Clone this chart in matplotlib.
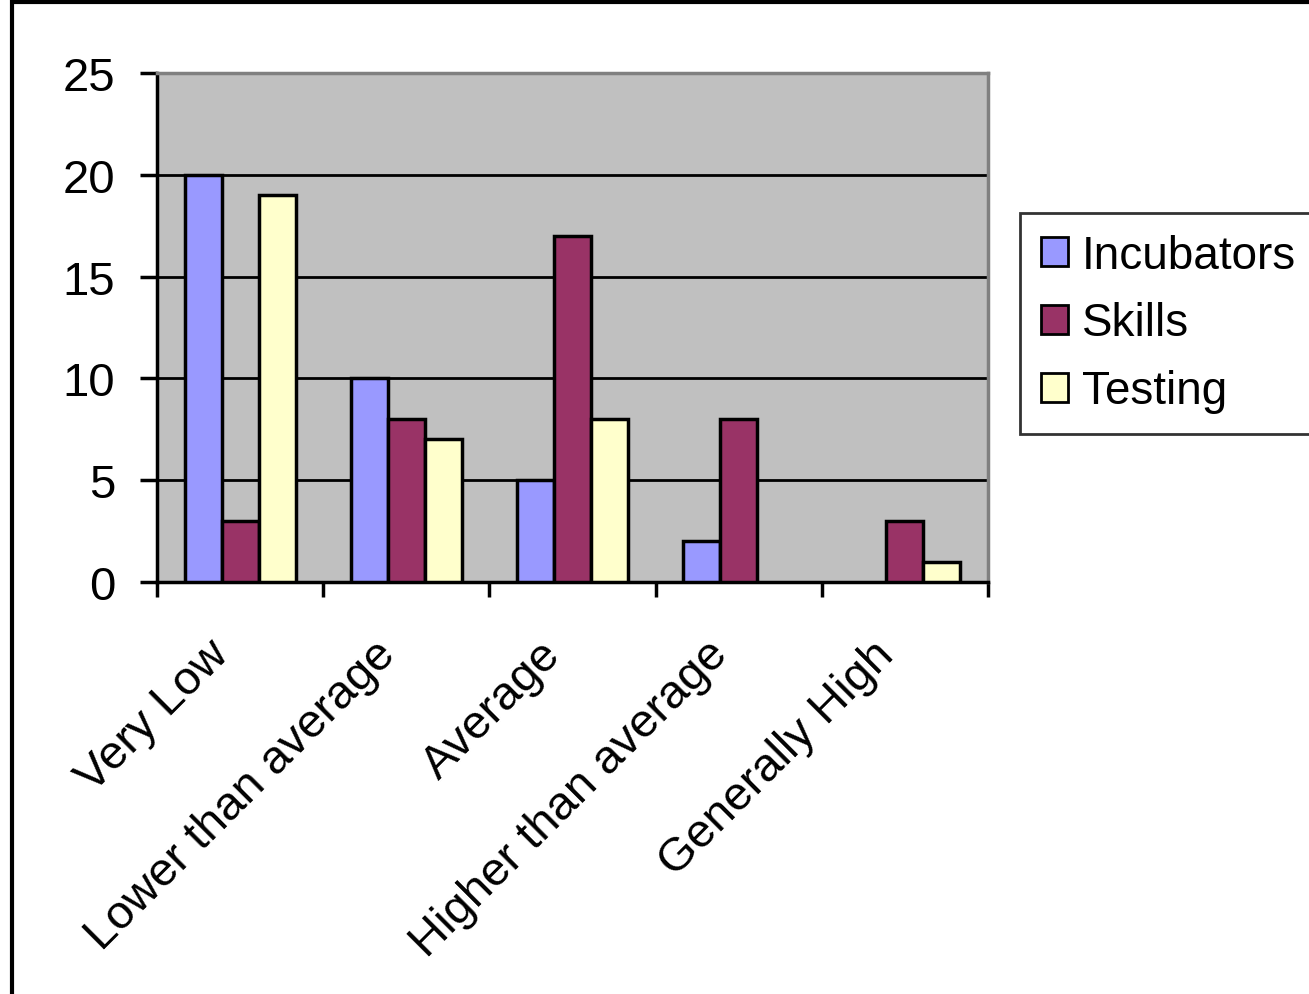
import matplotlib
matplotlib.use("Agg")
import matplotlib.pyplot as plt
import matplotlib.transforms as mtransforms
import numpy as np
from matplotlib.patches import Rectangle

categories = ["Very Low", "Lower than average", "Average", "Higher than average", "Generally High"]
series_names = ["Incubators", "Skills", "Testing"]
incubators = [20, 10, 5, 2, 0]
skills = [3, 8, 17, 8, 3]
testing = [19, 7, 8, 0, 1]
colors = ["#9999FF", "#993366", "#FFFFCC"]
yticks = [0, 5, 10, 15, 20, 25]

plt.rcParams['font.family'] = ['Liberation Sans', 'DejaVu Sans']

W, H = 1309, 995
fig = plt.figure(figsize=(W/100, H/100), dpi=100)
ax = fig.add_axes([157/W, 1-583/H, (988-157)/W, (583-74)/H])
ax.set_facecolor("#C0C0C0")

FS = 34
x = np.arange(len(categories))
bw = 1/4.5
for i, (vals, name, c) in enumerate(zip([incubators, skills, testing], series_names, colors)):
    bars = ax.bar(x + (i-1)*bw, vals, width=bw, color=c, edgecolor="black", linewidth=2.5,
                  label=name, zorder=3)
    for b, v in zip(bars, vals):
        if v == 0:
            b.set_visible(False)

ax.set_xlim(-0.5, len(categories)-0.5)
ax.set_ylim(0, 25)
ax.set_yticks(yticks)
ax.set_yticklabels([str(v) for v in yticks], fontsize=FS)
ax.yaxis.grid(True, color="black", linewidth=2, zorder=1)
ax.set_axisbelow(True)
ax.tick_params(axis='y', length=12, width=2.5, direction='out', pad=18)

ax.set_xticks(np.arange(-0.5, len(categories)), minor=False)
ax.set_xticklabels([""]*(len(categories)+1))
ax.tick_params(axis='x', length=11, width=2.5, direction='out')
ax.set_xticks(x, minor=True)
ax.set_xticklabels(categories, minor=True, fontsize=FS, rotation=45,
                   ha='right', va='center', rotation_mode='anchor')
ax.tick_params(axis='x', which='minor', length=0, pad=42)
offset = mtransforms.ScaledTranslation(-18/100, -7/100, fig.dpi_scale_trans)
for lab in ax.get_xticklabels(minor=True):
    lab.set_transform(lab.get_transform() + offset)

for s in ['left', 'bottom']:
    ax.spines[s].set_color('black')
    ax.spines[s].set_linewidth(2.5)
for s in ['top', 'right']:
    ax.spines[s].set_color('#808080')
    ax.spines[s].set_linewidth(2.5)

leg = ax.legend(loc='upper left', bbox_to_anchor=(1020/W, 1-214/H), bbox_transform=fig.transFigure,
                fontsize=33, frameon=True, fancybox=False, handlelength=0.6, handleheight=0.6,
                handletextpad=0.3, borderpad=0.45, labelspacing=0.52, borderaxespad=0)
leg.get_frame().set_edgecolor('black')
leg.get_frame().set_linewidth(2)
for p in leg.get_patches():
    p.set_linewidth(2)

fig.patches.append(Rectangle((12/W, -0.05), 1.1, 1 - 3/H + 0.05, transform=fig.transFigure,
                             fill=False, edgecolor='black', linewidth=3, zorder=0))

fig.savefig("out.png", dpi=100)
